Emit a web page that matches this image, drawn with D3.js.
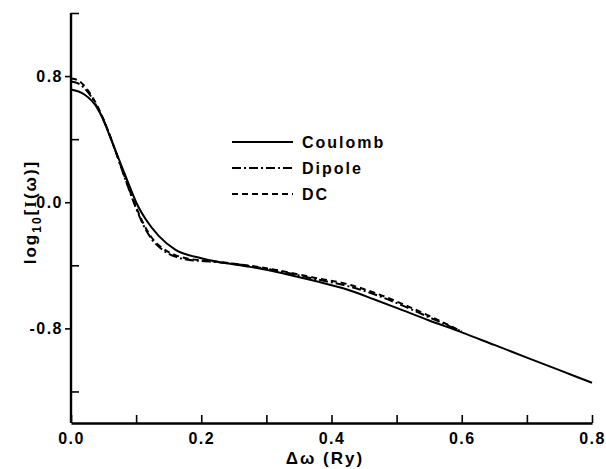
<!DOCTYPE html>
<html lang="en">
<head>
  <meta charset="UTF-8">
  <title>log10 I(w) vs delta w</title>
  <style>
    body { margin: 0; background: #fff; }
    text { font-family: "Liberation Sans", Arial, sans-serif; fill: #000; }
    .axis path, .axis line { stroke: #000; stroke-width: 2.4px; }
    .axis line { stroke-width: 1.6px; }
    .axis text { font-size: 16px; font-weight: bold; letter-spacing: 1.5px; }
    .line { fill: none; stroke: #000; stroke-width: 2px; }
  </style>
  <script src="https://cdnjs.cloudflare.com/ajax/libs/d3/7.8.5/d3.min.js"></script>
</head>
<body>
<svg id="chart"></svg>
<script>
  // ---- data ----
  var coulombX = [0, 0.02, 0.04, 0.05, 0.06, 0.07, 0.08, 0.09, 0.10, 0.115, 0.135, 0.16, 0.2, 0.225, 0.275, 0.325, 0.375, 0.425, 0.465, 0.5, 0.55, 0.6, 0.65, 0.7, 0.75, 0.8];
  var coulombY = [0.715, 0.685, 0.60, 0.52, 0.415, 0.31, 0.205, 0.10, 0.0, -0.11, -0.215, -0.30, -0.355, -0.378, -0.41, -0.45, -0.50, -0.555, -0.615, -0.67, -0.75, -0.825, -0.905, -0.985, -1.065, -1.145];
  var dipoleX = [0, 0.01, 0.02, 0.03, 0.04, 0.05, 0.06, 0.07, 0.08, 0.09, 0.10, 0.11, 0.125, 0.14, 0.16, 0.18, 0.2, 0.225, 0.275, 0.325, 0.375, 0.425, 0.47, 0.52, 0.56, 0.6];
  var dipoleY = [0.765, 0.755, 0.725, 0.675, 0.605, 0.52, 0.42, 0.305, 0.185, 0.07, -0.04, -0.135, -0.24, -0.30, -0.345, -0.365, -0.373, -0.38, -0.405, -0.442, -0.487, -0.532, -0.59, -0.675, -0.748, -0.82];
  var dcX = [0, 0.01, 0.02, 0.03, 0.04, 0.05, 0.06, 0.07, 0.08, 0.09, 0.10, 0.11, 0.125, 0.14, 0.16, 0.18, 0.2, 0.225, 0.275, 0.325, 0.375, 0.425, 0.47, 0.52, 0.56, 0.6];
  var dcY = [0.785, 0.775, 0.74, 0.685, 0.615, 0.525, 0.42, 0.305, 0.19, 0.075, -0.03, -0.125, -0.23, -0.29, -0.335, -0.358, -0.368, -0.378, -0.403, -0.437, -0.48, -0.52, -0.58, -0.665, -0.74, -0.82];

  var seriesNames = ["Coulomb", "Dipole", "DC"];
  var xMajorTicks = [0, 0.2, 0.4, 0.6, 0.8];
  var xMinorTicks = [0.1, 0.3, 0.5, 0.7];
  var yMajorTicks = [-0.8, 0.0, 0.8];
  var yMinorTicks = [-1.2, -0.4, 0.4, 1.2];

  var width = 606, height = 469;
  var dashes = [null, "9,3,2,3", "6,4"];
  var fmt = function(d){ return d3.format('.1f')(d).replace('\u2212', '-'); };

  var svg = d3.select('#chart').attr('width', width).attr('height', height);

  var x = d3.scaleLinear().domain([0, 0.8]).range([71, 592]);
  var y = d3.scaleLinear().domain([-1.4, 1.2]).range([423, 13]);

  // -------- axes --------
  svg.append('g').attr('class', 'axis')
    .attr('transform', 'translate(0,' + y(-1.4) + ')')
    .call(d3.axisBottom(x).tickValues(xMajorTicks.concat(xMinorTicks))
      .tickSizeInner(-8).tickSizeOuter(0).tickPadding(10)
      .tickFormat(function(d){ return xMajorTicks.indexOf(d) >= 0 ? fmt(d) : ''; }));

  var yAxisG = svg.append('g').attr('class', 'axis')
    .attr('transform', 'translate(' + x(0) + ',0)')
    .call(d3.axisLeft(y).tickValues(yMajorTicks)
      .tickSizeInner(6).tickSizeOuter(0).tickPadding(2)
      .tickFormat(fmt));
  yAxisG.select('.domain').attr('d', 'M0,' + y(1.2) + 'V' + y(-1.4));

  svg.append('g').attr('class', 'axis')
    .attr('transform', 'translate(' + x(0) + ',0)')
    .call(d3.axisLeft(y).tickValues(yMinorTicks)
      .tickSizeInner(-8).tickSizeOuter(0).tickFormat(''))
    .select('.domain').remove();

  // axis titles
  svg.append('text')
    .attr('x', 325).attr('y', 464)
    .attr('text-anchor', 'middle')
    .style('font-size', '17px').style('font-weight', 'bold').style('letter-spacing', '2px')
    .text('\u0394\u03c9 (Ry)');

  var yl = svg.append('text')
    .attr('transform', 'translate(36,212) rotate(-90)')
    .attr('text-anchor', 'middle')
    .style('font-size', '17px').style('font-weight', 'bold').style('letter-spacing', '2px');
  yl.append('tspan').text('log');
  yl.append('tspan').attr('dy', 5).style('font-size', '12px').text('10');
  yl.append('tspan').attr('dy', -5).text('[');
  yl.append('tspan').style('font-family', '"Liberation Serif", serif').text('I');
  yl.append('tspan').text('(\u03c9)]');

  // -------- curves --------
  var line = d3.line()
    .x(function(d){ return x(d[0]); })
    .y(function(d){ return y(d[1]); })
    .curve(d3.curveMonotoneX);

  var series = [
    d3.zip(coulombX, coulombY),
    d3.zip(dipoleX, dipoleY),
    d3.zip(dcX, dcY)
  ];

  svg.append('g').selectAll('path')
    .data(series)
    .enter().append('path')
    .attr('class', 'line')
    .attr('d', line)
    .attr('stroke-dasharray', function(d, i){ return dashes[i]; });

  // -------- legend --------
  var legend = svg.append('g').selectAll('g')
    .data(seriesNames)
    .enter().append('g')
    .attr('transform', function(d, i){ return 'translate(0,' + (142 + i * 26) + ')'; });
  legend.append('line')
    .attr('class', 'line')
    .attr('x1', 232).attr('x2', 293).attr('y1', 0).attr('y2', 0)
    .attr('stroke-dasharray', function(d, i){ return dashes[i]; });
  legend.append('text')
    .attr('x', 302).attr('y', 6)
    .style('font-size', '16px').style('font-weight', 'bold').style('letter-spacing', '2px')
    .text(function(d){ return d; });
</script>
</body>
</html>
